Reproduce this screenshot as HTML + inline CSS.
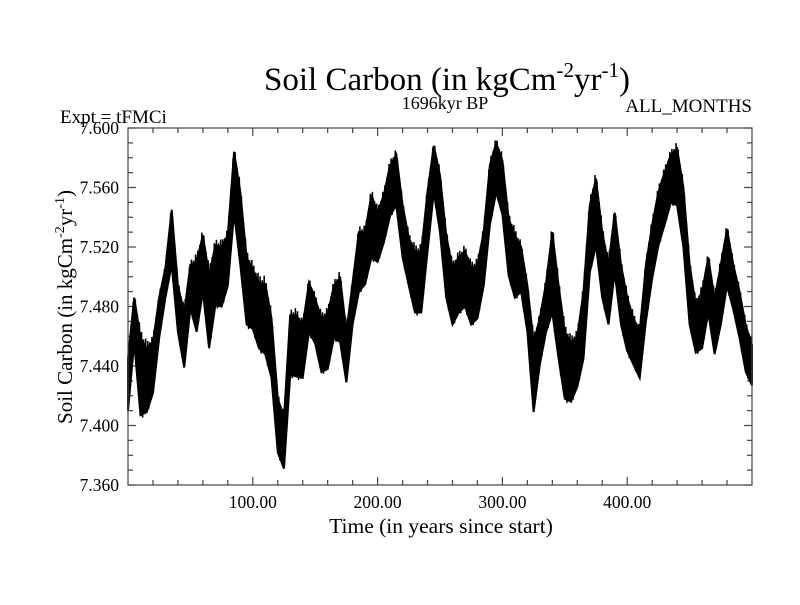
<!DOCTYPE html>
<html><head><meta charset="utf-8"><style>
body{margin:0;background:#fff;}
svg text{font-family:"Liberation Serif",serif;fill:#000;}
</style></head><body>
<svg id="chart" width="800" height="600" viewBox="0 0 800 600" xmlns="http://www.w3.org/2000/svg">
<rect width="800" height="600" fill="#fff"/>
<text x="447" y="90" font-size="33" text-anchor="middle">Soil Carbon (in kgCm<tspan font-size="21" dy="-13">-2</tspan><tspan dy="13">yr</tspan><tspan font-size="21" dy="-13">-1</tspan><tspan dy="13">)</tspan></text>
<text x="445" y="109" font-size="18" text-anchor="middle">1696kyr BP</text>
<text x="60" y="123" font-size="19">Expt = tFMCi</text>
<text x="752" y="112" font-size="19" text-anchor="end">ALL_MONTHS</text>
<text transform="translate(72,307) rotate(-90)" font-size="21" text-anchor="middle">Soil Carbon (in kgCm<tspan font-size="14" dy="-8">-2</tspan><tspan dy="8">yr</tspan><tspan font-size="14" dy="-8">-1</tspan><tspan dy="8">)</tspan></text>
<text x="441" y="533" font-size="21.5" text-anchor="middle">Time (in years since start)</text>
<g id="ticks"></g>
<g id="marks"></g>
<rect x="128" y="128" width="624" height="357" fill="none" stroke="#444" stroke-width="1.2"/>
</svg>
<script>
const years = [0,5,10,15,20,25,30,35,40,45,50,55,60,65,70,75,80,85,90,95,100,105,110,115,120,125,130,135,140,145,150,155,160,165,170,175,180,185,190,195,200,205,210,215,220,225,230,235,240,245,250,255,260,265,270,275,280,285,290,295,300,305,310,315,320,325,330,335,340,345,350,355,360,365,370,375,380,385,390,395,400,405,410,415,420,425,430,435,440,445,450,455,460,465,470,475,480,485,490,495,500];
const highVals = [7.445,7.486,7.459,7.452,7.456,7.486,7.506,7.545,7.494,7.476,7.508,7.510,7.528,7.501,7.521,7.520,7.528,7.584,7.557,7.513,7.505,7.496,7.495,7.472,7.418,7.405,7.474,7.474,7.467,7.496,7.485,7.472,7.475,7.494,7.499,7.463,7.496,7.530,7.530,7.555,7.543,7.555,7.575,7.582,7.548,7.526,7.517,7.517,7.557,7.588,7.568,7.528,7.506,7.513,7.517,7.506,7.508,7.530,7.575,7.590,7.578,7.539,7.528,7.520,7.494,7.456,7.472,7.496,7.530,7.494,7.463,7.456,7.460,7.490,7.548,7.566,7.530,7.508,7.543,7.508,7.486,7.472,7.463,7.508,7.535,7.557,7.570,7.582,7.586,7.560,7.508,7.481,7.490,7.513,7.485,7.508,7.532,7.508,7.490,7.467,7.454];
const lowVals = [7.410,7.456,7.407,7.409,7.422,7.459,7.486,7.508,7.463,7.439,7.479,7.463,7.490,7.452,7.481,7.480,7.494,7.543,7.508,7.468,7.465,7.452,7.448,7.432,7.382,7.371,7.434,7.433,7.432,7.463,7.455,7.436,7.438,7.459,7.456,7.429,7.468,7.490,7.495,7.513,7.510,7.523,7.541,7.548,7.513,7.494,7.476,7.476,7.517,7.557,7.530,7.486,7.468,7.476,7.480,7.468,7.472,7.494,7.535,7.557,7.542,7.501,7.486,7.490,7.463,7.409,7.441,7.463,7.476,7.445,7.418,7.416,7.426,7.445,7.503,7.521,7.486,7.468,7.503,7.468,7.450,7.441,7.432,7.470,7.499,7.521,7.535,7.550,7.548,7.520,7.468,7.449,7.452,7.476,7.448,7.468,7.494,7.478,7.459,7.436,7.427];
const yTickVals = [7.36,7.40,7.44,7.48,7.52,7.56,7.60];
const yTickLabels = ["7.360","7.400","7.440","7.480","7.520","7.560","7.600"];
const xTickVals = [100,200,300,400];
const xTickLabels = ["100.00","200.00","300.00","400.00"];

const NS="http://www.w3.org/2000/svg";
const X0=128,X1=752,Y0=485,Y1=128,XMIN=0,XMAX=500,YMIN=7.36,YMAX=7.60;
function xs(v){return X0+(v-XMIN)/(XMAX-XMIN)*(X1-X0);}
function ys(v){return Y0-(v-YMIN)/(YMAX-YMIN)*(Y0-Y1);}
const tg=document.getElementById('ticks');
const mg=document.getElementById('marks');
function line(x1,y1,x2,y2,name){
  const l=document.createElementNS(NS,'line');
  l.setAttribute('x1',x1);l.setAttribute('y1',y1);l.setAttribute('x2',x2);l.setAttribute('y2',y2);
  l.setAttribute('stroke','#444');l.setAttribute('stroke-width','1.2');
  
  
  tg.appendChild(l);
}
for(let i=0;i<=24;i++){
  const v=YMIN+i*0.01, y=ys(v), major=(i%4===0), len=major?8:5;
  line(X0,y,X0+len,y,'y-tick');
  line(X1,y,X1-len,y,'y-tick-right');
}
for(let v=20;v<XMAX;v+=20){
  const x=xs(v), major=(v%100===0), len=major?8:5;
  line(x,Y0,x,Y0-len,'x-tick');
  line(x,Y1,x,Y1+len,'x-tick-top');
}
yTickVals.forEach((v,i)=>{
  const t=document.createElementNS(NS,'text');
  t.setAttribute('x',119);t.setAttribute('y',ys(v)+6);
  t.setAttribute('font-size','17.5');t.setAttribute('text-anchor','end');
  t.textContent=yTickLabels[i];
  
  
  tg.appendChild(t);
});
xTickVals.forEach((v,i)=>{
  const t=document.createElementNS(NS,'text');
  t.setAttribute('x',xs(v));t.setAttribute('y',508);
  t.setAttribute('font-size','17.5');t.setAttribute('text-anchor','middle');
  t.textContent=xTickLabels[i];
  
  
  tg.appendChild(t);
});
let d='';
years.forEach((yr,i)=>{d+=(i?'L':'M')+xs(yr).toFixed(1)+','+ys(highVals[i]).toFixed(1);});
for(let i=years.length-1;i>=0;i--){d+='L'+xs(years[i]).toFixed(1)+','+ys(lowVals[i]).toFixed(1);}
d+='Z';
const band=document.createElementNS(NS,'path');
band.setAttribute('d',d);band.setAttribute('fill','#000');band.setAttribute('stroke','#000');band.setAttribute('stroke-width','2');


mg.appendChild(band);
const pattern=[0.2,1.1,-0.05,1.05,0.1,1.12];
let s='';
for(let i=0;i<years.length-1;i++){
  for(let k=0;k<6;k++){
    const f=k/6;
    const yr=years[i]+f*(years[i+1]-years[i]);
    const hi=highVals[i]+f*(highVals[i+1]-highVals[i]);
    const lo=lowVals[i]+f*(lowVals[i+1]-lowVals[i]);
    const v=lo+pattern[k]*(hi-lo);
    s+=((i||k)?'L':'M')+xs(yr).toFixed(1)+','+ys(v).toFixed(1);
  }
}
const sp=document.createElementNS(NS,'path');
sp.setAttribute('d',s);sp.setAttribute('fill','none');sp.setAttribute('stroke','#000');sp.setAttribute('stroke-width','1.5');


mg.appendChild(sp);
</script>
</body></html>
